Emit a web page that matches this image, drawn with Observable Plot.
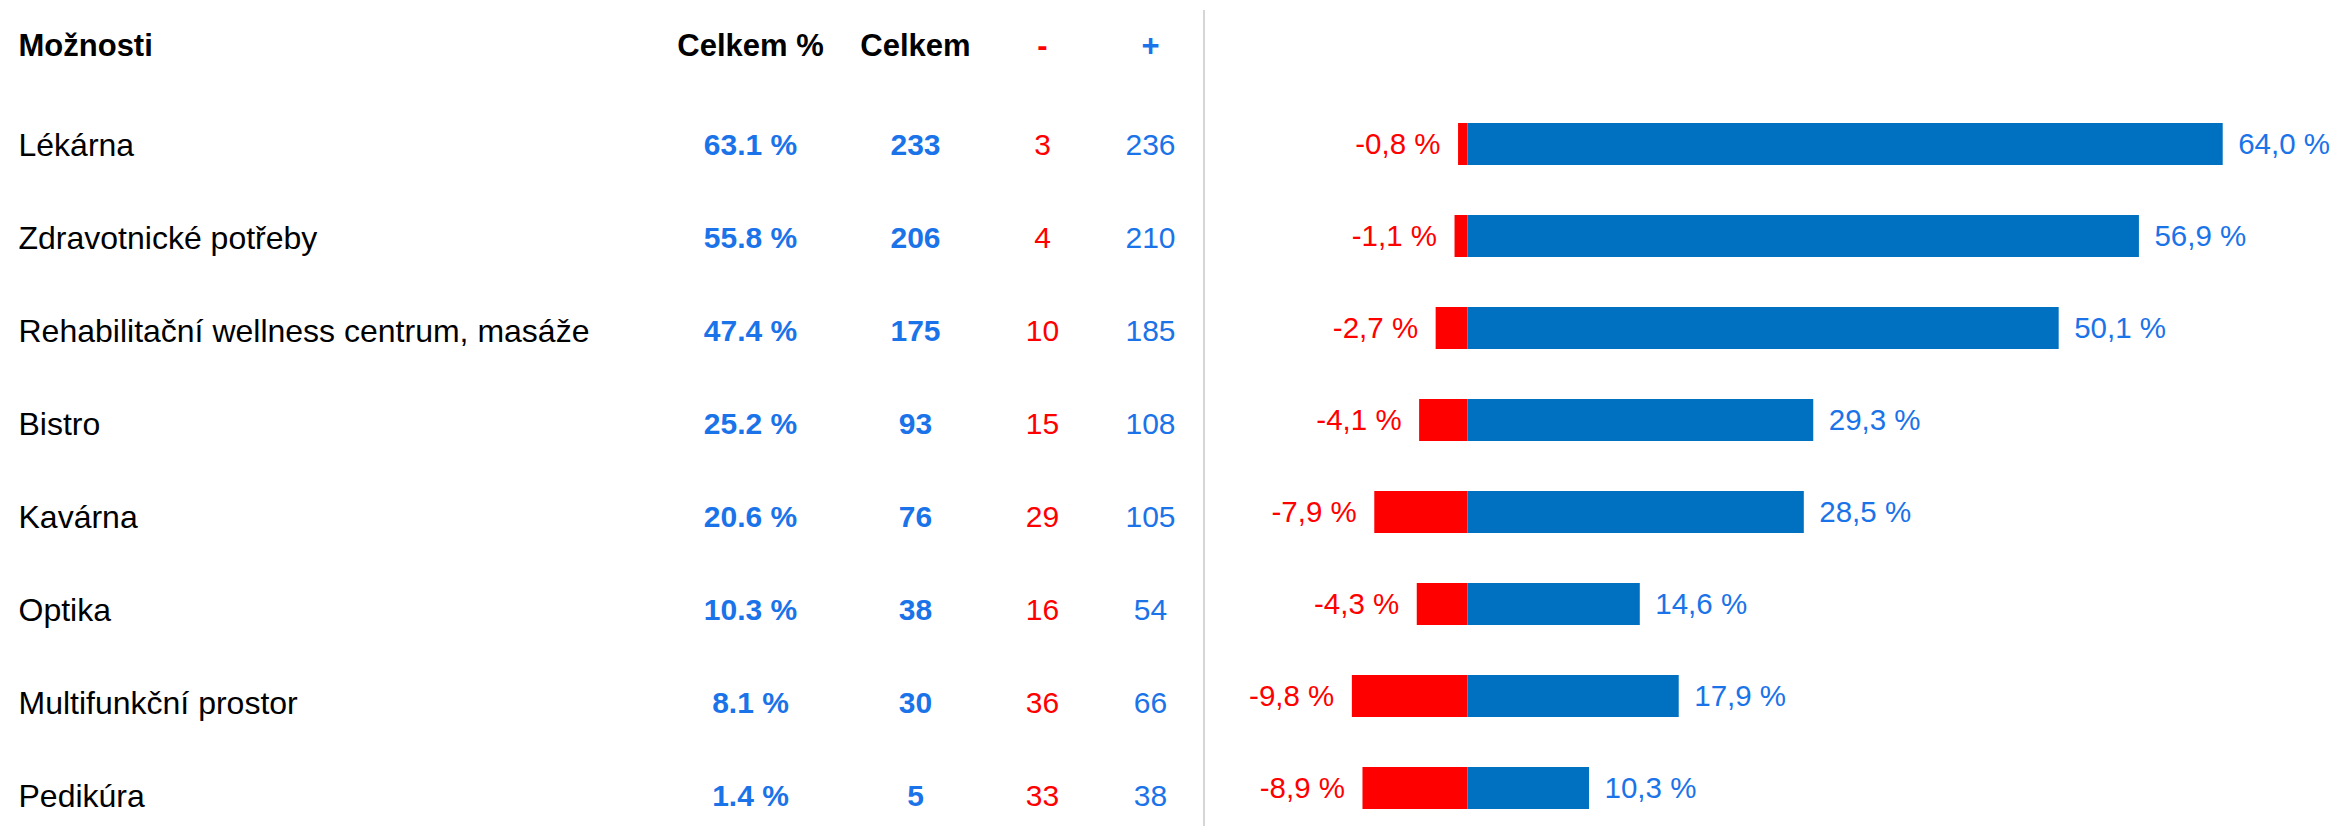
<!DOCTYPE html>
<html><head><meta charset="utf-8">
<script src="https://cdn.jsdelivr.net/npm/d3@7"></script>
<script src="https://cdn.jsdelivr.net/npm/@observablehq/plot@0.6"></script>
<style>
html,body{margin:0;padding:0;background:#fff;}
#wrap{position:relative;width:2334px;height:826px;overflow:hidden;font-family:"Liberation Sans",Arial,sans-serif;}
#table{position:absolute;left:0;top:0;}
#bars{position:absolute;left:1205px;top:0;}
#sep{position:absolute;left:1203px;top:10px;width:2px;height:816px;background:#d6d6d6;}
</style></head><body>
<div id="wrap"><div id="table"></div><div id="sep"></div><div id="bars"></div></div>
<script>
const categories = ["Lékárna", "Zdravotnické potřeby", "Rehabilitační wellness centrum, masáže", "Bistro", "Kavárna", "Optika", "Multifunkční prostor", "Pedikúra"];
const totalPct = [63.1, 55.8, 47.4, 25.2, 20.6, 10.3, 8.1, 1.4];
const total = [233, 206, 175, 93, 76, 38, 30, 5];
const minus = [3, 4, 10, 15, 29, 16, 36, 33];
const plus = [236, 210, 185, 108, 105, 54, 66, 38];
const negShare = [-0.8, -1.1, -2.7, -4.1, -7.9, -4.3, -9.8, -8.9];
const posShare = [64.0, 56.9, 50.1, 29.3, 28.5, 14.6, 17.9, 10.3];
const headers = ["Možnosti", "Celkem %", "Celkem", "-", "+"];

const RED = "#ff0000", BLUE_TXT = "#1a73e8", BLUE_BAR = "#0070c0";
const font = "Liberation Sans, Arial, sans-serif";

const rows = categories.map((c, i) => ({c, pct: totalPct[i], total: total[i], minus: minus[i], plus: plus[i], neg: negShare[i], pos: posShare[i]}));

const cols = [
  {dx: 18, anchor: "start", hColor: "#000", cell: d => d.c, color: "#000", weight: "normal", size: 32},
  {dx: 750, anchor: "middle", hColor: "#000", cell: d => d.pct.toFixed(1) + " %", color: BLUE_TXT, weight: "bold", size: 30},
  {dx: 915, anchor: "middle", hColor: "#000", cell: d => String(d.total), color: BLUE_TXT, weight: "bold", size: 30},
  {dx: 1042, anchor: "middle", hColor: RED, cell: d => String(d.minus), color: RED, weight: "normal", size: 30},
  {dx: 1150, anchor: "middle", hColor: BLUE_TXT, cell: d => String(d.plus), color: BLUE_TXT, weight: "normal", size: 30}
];

const tableMarks = [];
cols.forEach((col, j) => {
  tableMarks.push(Plot.text([headers[j]], {
    text: d => d, frameAnchor: "top-left", lineAnchor: "middle", dx: col.dx, dy: 46,
    textAnchor: col.anchor, fill: col.hColor, fontWeight: "bold", fontSize: 31
  }));
  tableMarks.push(Plot.text(rows, {
    y: "c", text: col.cell, frameAnchor: "left", lineAnchor: "middle", dx: col.dx,
    textAnchor: col.anchor, fill: col.color, fontWeight: col.weight, fontSize: col.size
  }));
});

const table = Plot.plot({
  width: 1203, height: 826, margin: 0,
  style: {fontFamily: font, background: "transparent"},
  y: {type: "point", domain: categories, range: [145.4, 796.4], padding: 0, axis: null},
  marks: tableMarks
});
document.getElementById("table").append(table);

const fmt = v => v.toFixed(1).replace(".", ",") + " %";

const bars = Plot.plot({
  width: 1129, height: 826, margin: 0,
  style: {fontFamily: font, background: "transparent"},
  x: {domain: [-10, 70], range: [144.5, 1088.5], axis: null},
  y: {type: "band", domain: categories, range: [97.1, 834.2], paddingInner: 0.544, paddingOuter: 0.272, axis: null},
  marks: [
    Plot.barX(rows, {x1: 0, x2: "neg", y: "c", fill: RED}),
    Plot.barX(rows, {x1: 0, x2: "pos", y: "c", fill: BLUE_BAR}),
    Plot.text(rows, {x: "neg", y: "c", text: d => fmt(d.neg), textAnchor: "end", dx: -18, fill: RED, fontSize: 29.5}),
    Plot.text(rows, {x: "pos", y: "c", text: d => fmt(d.pos), textAnchor: "start", dx: 15, fill: BLUE_TXT, fontSize: 29.5})
  ]
});
document.getElementById("bars").append(bars);
</script>
</body></html>
